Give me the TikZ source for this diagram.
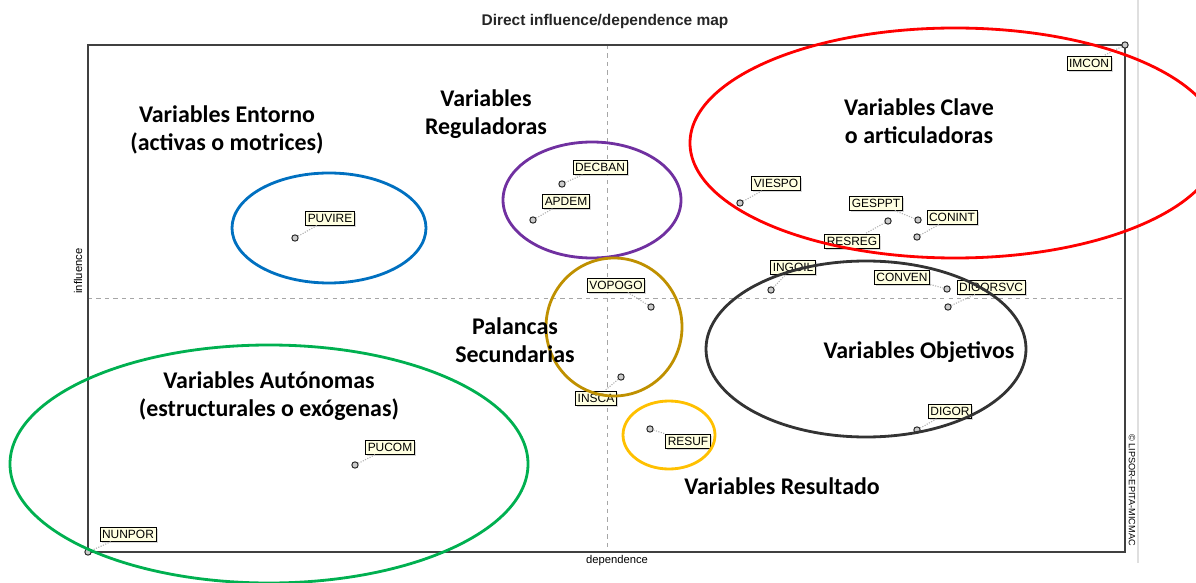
\documentclass[tikz,border=0pt]{standalone}
\usepackage{fontspec}
\setmainfont{Liberation Sans}
\newfontfamily\calib{Carlito}
\usetikzlibrary{shadows}
\definecolor{tipfill}{HTML}{FFFFE1}
\definecolor{grpblue}{HTML}{0070C0}
\definecolor{grppurple}{HTML}{7030A0}
\definecolor{grpgold}{HTML}{BF9000}
\definecolor{grpyellow}{HTML}{FFC000}
\definecolor{grpgreen}{HTML}{00B050}
\definecolor{grpdark}{HTML}{333333}
\tikzset{
  var/.style={draw=black, fill=tipfill, inner xsep=1.5pt, inner ysep=2pt, line width=0.6pt,
    font=\fontsize{8.5}{9}\selectfont,
    drop shadow={shadow xshift=1.2pt, shadow yshift=-1.2pt, fill=gray!60}},
  pt/.style={circle, draw=black!85, fill=gray!40, line width=0.7pt, inner sep=0pt, minimum size=4.5pt},
  lead/.style={gray!60, densely dotted, line width=0.8pt},
  grp/.style={line width=2pt},
  cat/.style={font=\calib\bfseries\fontsize{17}{20}\selectfont, align=center}
}
\begin{document}
\begin{tikzpicture}[x=0.025cm, y=-0.025cm]
        \useasboundingbox (0,0) rectangle (1196,583);
        % frame and axes
        \draw[gray!25, line width=1pt] (1138,0) -- (1138,563);
        \draw[gray!70, dashed, line width=0.5pt] (607,45) -- (607,552);
        \draw[gray!70, dashed, line width=0.5pt] (88,298) -- (1125,298);
        \draw[black!75, line width=0.9pt] (88,45) rectangle (1125,552);
        \node[font=\bfseries\fontsize{11}{13}\selectfont, text=black!85] (title) at (605,22) {Direct influence/dependence map};
        \node[font=\fontsize{8}{9}\selectfont, rotate=90] (ylab) at (78,271) {influence};
        \node[font=\fontsize{8}{9}\selectfont] (xlab) at (617,561) {dependence};
        \node[font=\fontsize{6.5}{7}\selectfont, rotate=-90] (copy) at (1132,490) {© LIPSOR-EPITA-MICMAC};

        % variables
        \node[pt] (imcon) at (1125,45) {};
        \node[var] (imconL) at (1089,63) {IMCON};
        \node[pt] (nunpor) at (88,552) {};
        \node[var] (nunporL) at (128,534) {NUNPOR};
        \node[pt] (puvire) at (295,238) {};
        \node[var] (puvireL) at (330,218) {PUVIRE};
        \node[pt] (decban) at (562,184) {};
        \node[var] (decbanL) at (600,167) {DECBAN};
        \node[pt] (apdem) at (533,220) {};
        \node[var] (apdemL) at (566,201) {APDEM};
        \node[pt] (viespo) at (740,203) {};
        \node[var] (viespoL) at (776,183) {VIESPO};
        \node[pt] (resreg) at (888,221) {};
        \node[var] (resregL) at (852,241) {RESREG};
        \node[pt] (gesppt) at (918,220) {};
        \node[var] (gespptL) at (876,203) {GESPPT};
        \node[pt] (conint) at (917,237) {};
        \node[var] (conintL) at (952,217) {CONINT};
        \node[pt] (ingoil) at (771,290) {};
        \node[var] (ingoilL) at (793,267) {INGOIL};
        \node[pt] (conven) at (947,289) {};
        \node[var] (convenL) at (902,277) {CONVEN};
        \node[pt] (digorsvc) at (948,307) {};
        \node[var] (digorsvcL) at (991,287) {DIGORSVC};
        \node[pt] (vopogo) at (651,307) {};
        \node[var] (vopogoL) at (616,285) {VOPOGO};
        \node[pt] (insca) at (621,377) {};
        \node[var] (inscaL) at (596,398) {INSCA};
        \node[pt] (resuf) at (650,429) {};
        \node[var] (resufL) at (688,441) {RESUF};
        \node[pt] (digor) at (917,430) {};
        \node[var] (digorL) at (950,411) {DIGOR};
        \node[pt] (pucom) at (355,465) {};
        \node[var] (pucomL) at (390,447) {PUCOM};

        \foreach \v in {imcon,nunpor,puvire,decban,apdem,viespo,resreg,gesppt,conint,ingoil,conven,digorsvc,vopogo,insca,resuf,digor,pucom}
            \draw[lead] (\v) -- (\v L);

        % groups
        \draw[grp, red] (955,143) ellipse [x radius=265, y radius=115];
        \draw[grp, grpblue] (329,228) ellipse [x radius=97, y radius=55];
        \draw[grp, grppurple] (592,200) ellipse [x radius=89, y radius=58];
        \draw[grp, grpgold] (614,327) ellipse [x radius=68, y radius=69];
        \draw[grp, grpyellow] (669,435) ellipse [x radius=46, y radius=34];
        \draw[grp, grpdark] (866,349) ellipse [x radius=160, y radius=88];
        \draw[grp, grpgreen] (269,464) ellipse [x radius=259, y radius=119];

        \node[cat] (entorno) at (227,130) {Variables Entorno\\(activas o motrices)};
        \node[cat] (regul) at (486,114) {Variables\\Reguladoras};
        \node[cat] (clave) at (919,121) {Variables Clave\\o articuladoras};
        \node[cat] (palanca) at (515,340) {Palancas\\Secundarias};
        \node[cat] (auton) at (269,396) {Variables Autónomas\\(estructurales o exógenas)};
        \node[cat] (objet) at (919,352) {Variables Objetivos};
        \node[cat] (result) at (782,486) {Variables Resultado};
    \end{tikzpicture}
\end{document}
